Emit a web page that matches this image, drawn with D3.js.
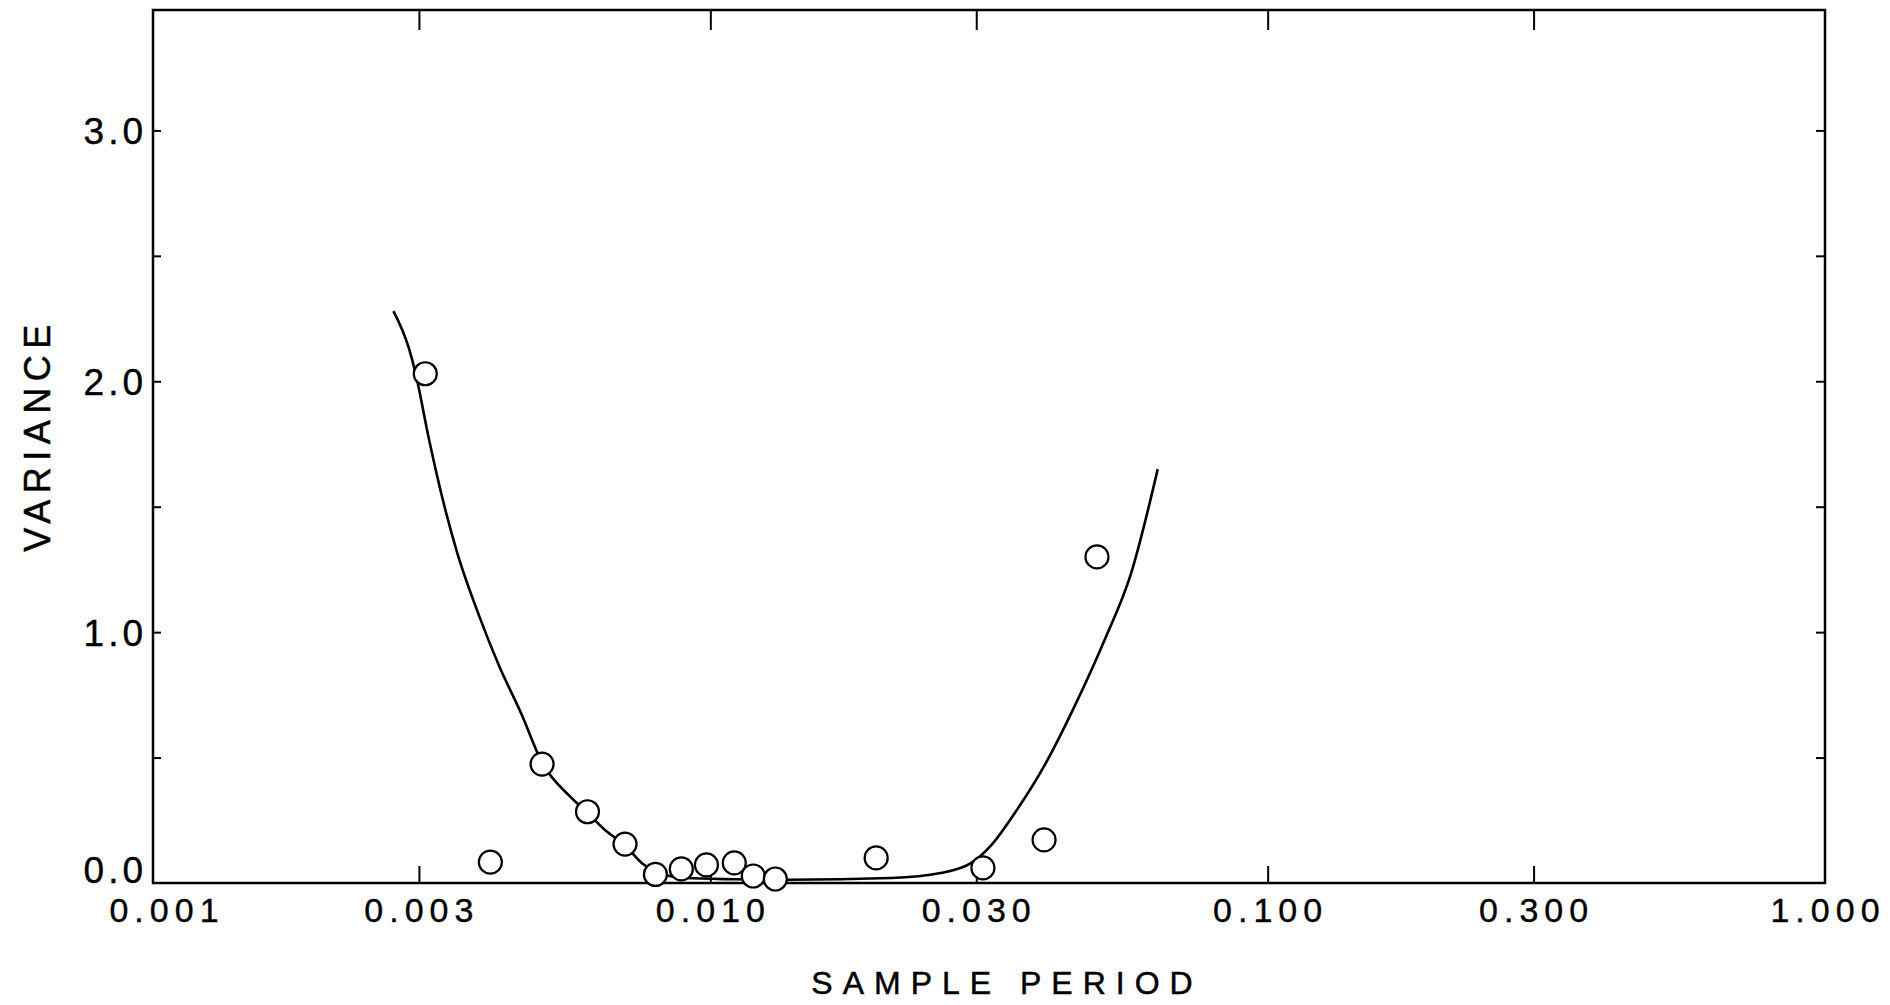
<!DOCTYPE html>
<html><head><meta charset="utf-8">
<script src="https://cdn.jsdelivr.net/npm/d3@7/dist/d3.min.js"></script>
<style>body{margin:0;background:#fff}svg{display:block}</style>
</head><body><svg id="c" width="1890" height="1005"></svg>
<script>
// ---- data ----
const xTickValues = [0.001, 0.003, 0.01, 0.03, 0.1, 0.3, 1];
const xTickLabels = ["0.001", "0.003", "0.010", "0.030", "0.100", "0.300", "1.000"];
const yTickValues = [0, 0.5, 1, 1.5, 2, 2.5, 3];
const yLabelValues = [0, 1, 2, 3];
const yTickLabels = ["0.0", "1.0", "2.0", "3.0"];
const xTitle = "SAMPLE PERIOD";
const yTitle = "VARIANCE";

const pointPeriod   = [0.00308, 0.00403, 0.00499, 0.00602, 0.00703, 0.00797, 0.00887, 0.00984, 0.01104, 0.01194, 0.01308, 0.01984, 0.03084, 0.0397, 0.0494];
const pointVariance = [2.03,    0.083,   0.474,   0.284,   0.155,   0.034,   0.056,   0.072,   0.080,   0.028,   0.016,   0.100,   0.060,   0.172,  1.30];

const curvePeriod   = [0.00270, 0.00288, 0.00296, 0.00312, 0.00326, 0.00351, 0.00384, 0.00417, 0.00459, 0.00499, 0.00557, 0.00602, 0.00648, 0.00703, 0.00753, 0.0080, 0.0090, 0.0110, 0.0138, 0.0211, 0.0259, 0.0294, 0.0319, 0.0352, 0.0398, 0.0456, 0.0510, 0.0568, 0.0635];
const curveVariance = [2.28,    2.13,    2.03,    1.78,    1.59,    1.32,    1.07,    0.87,    0.67,    0.48,    0.35,    0.28,    0.21,    0.15,    0.08,    0.045,  0.02,   0.015,  0.013,  0.02,   0.04,   0.08,   0.15,   0.28,   0.47,   0.73,   0.97,   1.23,   1.65];

// ---- layout ----
const L = 153, R = 1825, T = 10, B = 883;
const svg = d3.select("#c");
const font = "'Liberation Sans', Arial, Helvetica, sans-serif";

const x = d3.scaleLog().domain([0.001, 1]).range([L, R]);
const y = d3.scaleLinear().domain([0, 3.48]).range([B, T]);

// frame
svg.append("rect").attr("x", L).attr("y", T).attr("width", R - L).attr("height", B - T)
  .attr("fill", "none").attr("stroke", "#000").attr("stroke-width", 2.5);

// inner ticks via d3 axes
const innerX = xTickValues.slice(1, -1);
const innerY = yTickValues.slice(1);
function styleAxis(g) {
  g.select(".domain").remove();
  g.selectAll("line").attr("stroke", "#000").attr("stroke-width", 2);
  g.selectAll("text").remove();
}
svg.append("g").attr("transform", `translate(0,${B})`)
  .call(d3.axisBottom(x).tickValues(innerX).tickSize(-17).tickFormat(""))
  .call(styleAxis);
svg.append("g").attr("transform", `translate(0,${T})`)
  .call(d3.axisTop(x).tickValues(innerX).tickSize(-20).tickFormat(""))
  .call(styleAxis);
svg.append("g").attr("transform", `translate(${L},0)`)
  .call(d3.axisLeft(y).tickValues(innerY).tickSize(-8).tickFormat(""))
  .call(styleAxis);
svg.append("g").attr("transform", `translate(${R},0)`)
  .call(d3.axisRight(y).tickValues(innerY).tickSize(-9).tickFormat(""))
  .call(styleAxis);

// x tick labels
const xls = 6;
svg.append("g").selectAll("text").data(xTickValues).join("text")
  .attr("x", (d, i) => x(d) + xls / 2 + (i === 0 ? 11 : 0))
  .attr("y", 922)
  .attr("text-anchor", "middle")
  .attr("font-family", font).attr("font-size", 34).attr("letter-spacing", xls)
  .attr("fill", "#000").attr("stroke", "#000").attr("stroke-width", 0.4)
  .text((d, i) => xTickLabels[i]);

// y tick labels
const yls = 4;
svg.append("g").selectAll("text").data(yLabelValues).join("text")
  .attr("x", L - 10 + yls)
  .attr("y", d => d === 0 ? B : y(d) + 14)
  .attr("text-anchor", "end")
  .attr("font-family", font).attr("font-size", 37).attr("letter-spacing", yls)
  .attr("fill", "#000").attr("stroke", "#000").attr("stroke-width", 0.4)
  .text((d, i) => yTickLabels[i]);

// titles
svg.append("text").attr("x", 1002 + 5).attr("y", 994)
  .attr("text-anchor", "middle").attr("font-family", font).attr("font-size", 32)
  .attr("letter-spacing", 10).attr("fill", "#000").attr("stroke", "#000").attr("stroke-width", 0.5)
  .text(xTitle);
svg.append("text").attr("transform", `translate(50,${432 + 3}) rotate(-90)`)
  .attr("text-anchor", "middle").attr("font-family", font).attr("font-size", 36)
  .attr("letter-spacing", 6.5).attr("fill", "#000").attr("stroke", "#000").attr("stroke-width", 0.5)
  .text(yTitle);

// fitted curve
const curveData = curvePeriod.map((p, i) => [p, curveVariance[i]]);
svg.append("path").datum(curveData)
  .attr("d", d3.line().x(d => x(d[0])).y(d => y(d[1])).curve(d3.curveMonotoneX))
  .attr("fill", "none").attr("stroke", "#000").attr("stroke-width", 2.6);

// observed points
const pts = pointPeriod.map((p, i) => [p, pointVariance[i]]);
svg.append("g").selectAll("circle").data(pts).join("circle")
  .attr("cx", d => x(d[0])).attr("cy", d => y(d[1])).attr("r", 11.5)
  .attr("fill", "#fff").attr("stroke", "#000").attr("stroke-width", 2.2);
</script></body></html>
